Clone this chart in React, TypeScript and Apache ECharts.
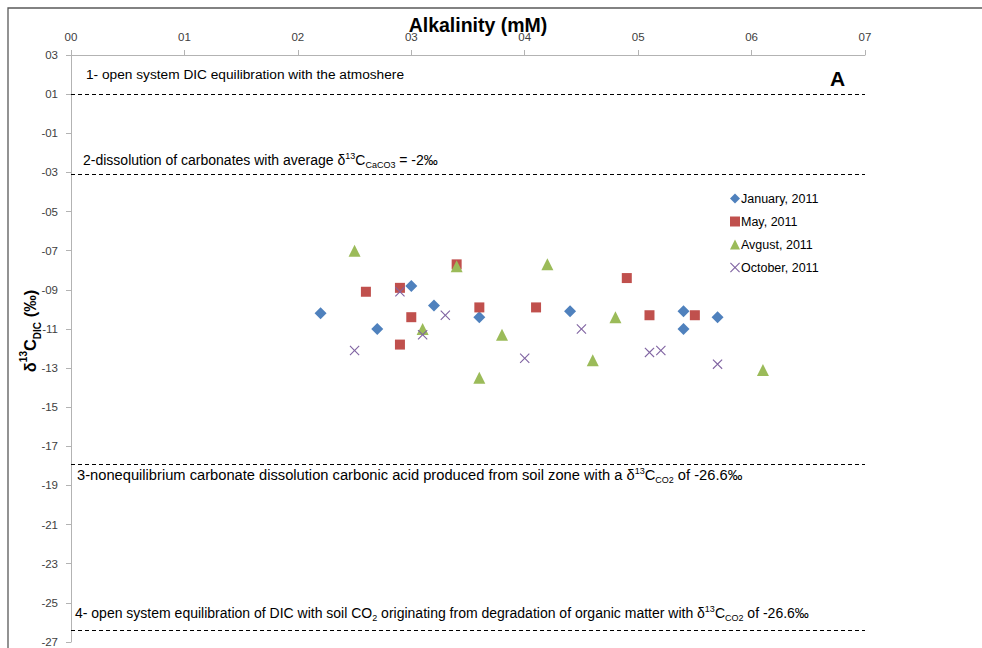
import React, { useEffect, useRef } from "react";
import * as echarts from "echarts";

const xTicks = [0, 1, 2, 3, 4, 5, 6, 7];
const yTicks = [3, 1, -1, -3, -5, -7, -9, -11, -13, -15, -17, -19, -21, -23, -25, -27];

const janX = [2.2, 2.7, 3.0, 3.2, 3.6, 4.4, 5.4, 5.4, 5.7];
const janY = [-10.2, -11.0, -8.8, -9.8, -10.4, -10.1, -10.1, -11.0, -10.4];

const mayX = [2.6, 2.9, 3.0, 2.9, 3.4, 3.6, 4.1, 4.9, 5.1, 5.5];
const mayY = [-9.1, -8.9, -10.4, -11.8, -7.7, -9.9, -9.9, -8.4, -10.3, -10.3];

const augX = [2.5, 3.4, 3.1, 3.8, 3.6, 4.2, 4.8, 4.6, 6.1];
const augY = [-7.0, -7.8, -11.0, -11.3, -13.5, -7.7, -10.4, -12.6, -13.1];

const octX = [2.5, 2.9, 3.1, 3.3, 4.0, 4.5, 5.1, 5.2, 5.7];
const octY = [-12.1, -9.1, -11.3, -10.3, -12.5, -11.0, -12.2, -12.1, -12.8];

const seriesNames = ["January, 2011", "May, 2011", "Avgust, 2011", "October, 2011"];
const annotationLevels = [1, -3.1, -17.9, -26.4];

const crossPath =
  "path://M0,0.8L0.8,0L5,4.2L9.2,0L10,0.8L5.8,5L10,9.2L9.2,10L5,5.8L0.8,10L0,9.2L4.2,5Z";

const FONT = "'Liberation Sans', 'DejaVu Sans', sans-serif";

function pad2(v: number) {
  const a = Math.abs(v);
  return (v < 0 ? "-" : "") + (a < 10 ? "0" + a : String(a));
}

function zip(xs: number[], ys: number[]) {
  return xs.map((x, i) => [x, ys[i]]);
}

function richFor(size: number) {
  return {
    n: { fontSize: size, fontFamily: FONT, color: "#000", lineHeight: 18 },
    sup: { fontSize: Math.round(size * 0.62), fontFamily: FONT, color: "#000", lineHeight: 10, verticalAlign: "top" },
    sub: { fontSize: Math.round(size * 0.62), fontFamily: FONT, color: "#000", lineHeight: 8, verticalAlign: "bottom" },
  };
}

export default function App() {
  const ref = useRef<HTMLDivElement>(null);
  useEffect(() => {
    if (!ref.current) return;
    const chart = echarts.init(ref.current, null, { renderer: "svg" });
    const colors = ["#4F81BD", "#C0504D", "#9BBB59", "#8064A2"];
    chart.setOption({
      animation: false,
      backgroundColor: "#fff",
      color: colors,
      textStyle: { fontFamily: FONT },
      grid: { left: 71, top: 55, right: 117, bottom: 6, containLabel: false },
      legend: {
        orient: "vertical",
        left: 725,
        top: 187,
        itemWidth: 10,
        itemHeight: 10,
        itemGap: 10,
        textStyle: { fontSize: 12.5, color: "#000", fontFamily: FONT, padding: [0, 0, 0, -4] },
        data: [
          { name: seriesNames[0], icon: "diamond" },
          { name: seriesNames[1], icon: "rect" },
          { name: seriesNames[2], icon: "triangle" },
          { name: seriesNames[3], icon: crossPath },
        ],
      },
      xAxis: {
        type: "value",
        position: "top",
        min: xTicks[0],
        max: xTicks[xTicks.length - 1],
        interval: 1,
        axisLine: { show: true, onZero: false, lineStyle: { color: "#b3b3b3", width: 1 } },
        axisTick: { show: true, length: 5, lineStyle: { color: "#b3b3b3" } },
        axisLabel: { fontSize: 11.5, color: "#404040", margin: 12, formatter: (v: number) => pad2(v) },
        splitLine: { show: false },
      },
      yAxis: {
        type: "value",
        min: yTicks[yTicks.length - 1],
        max: yTicks[0],
        axisLine: { show: true, onZero: false, lineStyle: { color: "#b3b3b3", width: 1 } },
        axisTick: { show: true, length: 5, lineStyle: { color: "#b3b3b3" }, customValues: yTicks },
        axisLabel: { fontSize: 11.5, color: "#404040", margin: 13, customValues: yTicks, formatter: (v: number) => pad2(v) },
        splitLine: { show: false },
      },
      series: [
        {
          name: seriesNames[0],
          type: "scatter",
          symbol: "diamond",
          symbolSize: 12,
          itemStyle: { opacity: 1 },
          data: zip(janX, janY),
          markLine: {
            silent: true,
            symbol: "none",
            label: { show: false },
            lineStyle: { color: "#000", width: 1, type: [4, 3] },
            data: annotationLevels.map((v) => ({ yAxis: v })),
          },
        },
        { name: seriesNames[1], type: "scatter", symbol: "rect", symbolSize: 10, itemStyle: { opacity: 1 }, data: zip(mayX, mayY) },
        { name: seriesNames[2], type: "scatter", symbol: "triangle", symbolSize: 12, itemStyle: { opacity: 1 }, data: zip(augX, augY) },
        { name: seriesNames[3], type: "scatter", symbol: crossPath, symbolSize: 10, itemStyle: { opacity: 1 }, data: zip(octX, octY) },
      ],
      graphic: [
        {
          type: "rect",
          shape: { x: 8, y: 8, width: 1100, height: 800 },
          style: { fill: "none", stroke: "#595959", lineWidth: 1.3 },
          silent: true,
        },
        {
          type: "text",
          x: 478,
          y: 25,
          style: { text: "Alkalinity (mM)", font: `bold 19.5px ${FONT}`, fill: "#000", align: "center", verticalAlign: "middle" },
        },
        {
          type: "text",
          x: 30,
          y: 331,
          rotation: Math.PI / 2,
          style: {
            text: "{b|δ}{sup|13}{b|C}{sub|DIC}{b| (‰)}",
            align: "center",
            verticalAlign: "middle",
            rich: {
              b: { fontSize: 16.5, fontWeight: "bold", fill: "#000", fontFamily: FONT, lineHeight: 24 },
              sup: { fontSize: 10, fontWeight: "bold", fill: "#000", fontFamily: FONT, lineHeight: 12, verticalAlign: "top" },
              sub: { fontSize: 10, fontWeight: "bold", fill: "#000", fontFamily: FONT, lineHeight: 10, verticalAlign: "bottom" },
            },
          },
        },
        {
          type: "text",
          left: 86,
          top: 67,
          style: { text: "1- open system DIC equilibration with the atmoshere", font: `13.7px ${FONT}`, fill: "#000" },
        },
        {
          type: "text",
          left: 83,
          top: 151,
          style: {
            text: "{n|2-dissolution of carbonates with average δ}{sup|13}{n|C}{sub|CaCO3}{n| = -2‰}",
            rich: richFor(14),
          },
        },
        {
          type: "text",
          left: 77,
          top: 466,
          style: {
            text: "{n|3-nonequilibrium carbonate dissolution carbonic acid produced from soil zone with a δ}{sup|13}{n|C}{sub|CO2}{n| of -26.6‰}",
            rich: richFor(14.7),
          },
        },
        {
          type: "text",
          left: 75,
          top: 604,
          style: {
            text: "{n|4- open system equilibration of DIC with soil CO}{sub|2}{n| originating from degradation of organic matter with δ}{sup|13}{n|C}{sub|CO2}{n| of -26.6‰}",
            rich: richFor(14),
          },
        },
        {
          type: "text",
          left: 830,
          top: 68,
          style: { text: "A", font: `bold 21px ${FONT}`, fill: "#000" },
        },
      ],
    });
    return () => chart.dispose();
  }, []);
  return (
    <div
      ref={ref}
      style={{ position: "fixed", left: 0, top: 0, width: 982, height: 648 }}
    />
  );
}
